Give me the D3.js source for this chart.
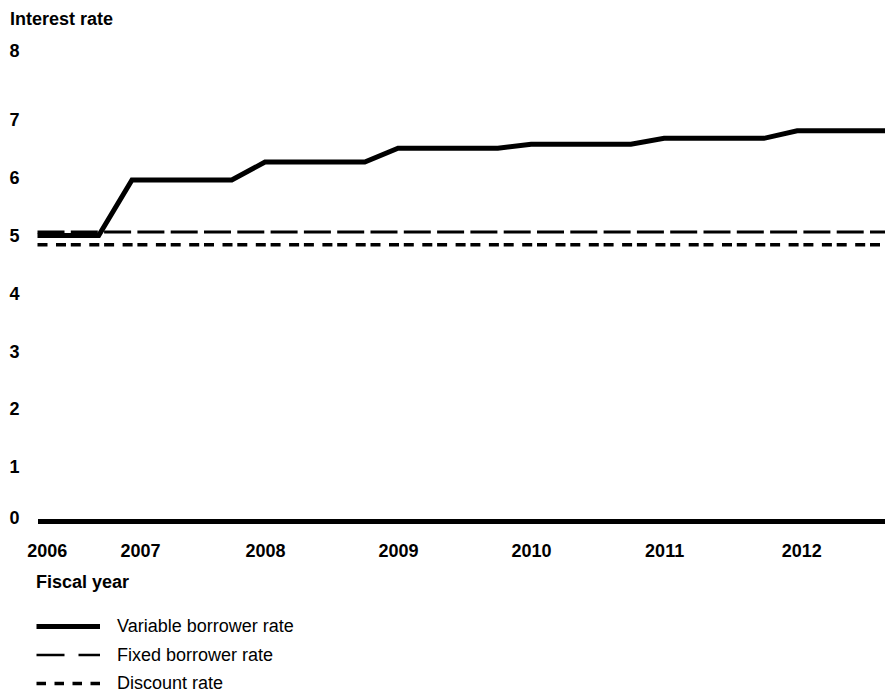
<!DOCTYPE html>
<html>
<head>
<meta charset="utf-8">
<script src="https://cdn.jsdelivr.net/npm/d3@7"></script>
<style>
  html, body { margin: 0; padding: 0; background: #fff; }
  svg { display: block; font-family: "Liberation Sans", Arial, Helvetica, sans-serif; }
</style>
</head>
<body>
<svg id="chart" width="885" height="694"></svg>
<script>
// ---- Data ----
const variableYears = [2006.29, 2006.75, 2007, 2007.75, 2008, 2008.75, 2009, 2009.75, 2010, 2010.75, 2011, 2011.75, 2012, 2012.66];
const variableRates = [4.94, 4.94, 5.90, 5.90, 6.21, 6.21, 6.45, 6.45, 6.52, 6.52, 6.62, 6.62, 6.75, 6.75];
const fixedYears = [2006.29, 2012.66];
const fixedRates = [5.0, 5.0];
const discountYears = [2006.29, 2012.66];
const discountRates = [4.78, 4.78];
const xTickValues = [2006.36, 2007.06, 2008, 2009, 2010, 2011, 2012.03];
const xTickLabels = ["2006", "2007", "2008", "2009", "2010", "2011", "2012"];
const yTickValues = [0, 1, 2, 3, 4, 5, 6, 7, 8];
const legendLabels = ["Variable borrower rate", "Fixed borrower rate", "Discount rate"];

// ---- Layout ----
const svg = d3.select("#chart");
const x = d3.scaleLinear().domain([2006.29, 2012.66]).range([37.5, 885]);
const y = d3.scaleLinear().domain([0, 7]).range([521, 116.4]);

const zip = (xs, ys) => xs.map((t, i) => ({ t, v: ys[i] }));
const line = d3.line().x(d => x(d.t)).y(d => y(d.v));

// Y axis title
svg.append("text")
  .attr("x", 10).attr("y", 24.5)
  .attr("font-size", 18).attr("font-weight", "bold")
  .text("Interest rate");

// Y axis (labels only)
const yAxis = svg.append("g")
  .attr("transform", `translate(${x.range()[0]},0)`)
  .call(d3.axisLeft(y).tickValues(yTickValues).tickSize(0).tickPadding(18).tickFormat(d3.format("d")));
yAxis.select(".domain").remove();
yAxis.selectAll("text")
  .attr("font-size", 18).attr("font-weight", "bold").attr("fill", "#000")
  .attr("font-family", "Liberation Sans, Arial, sans-serif")
  .attr("dy", d => d === 0 ? "0.14em" : (d === 8 ? "-0.1em" : "0.53em"));

// Fixed borrower rate
svg.append("path")
  .datum(zip(fixedYears, fixedRates))
  .attr("d", line)
  .attr("fill", "none").attr("stroke", "#000")
  .attr("stroke-width", 2.8)
  .attr("stroke-dasharray", "27,6.3");

// Discount rate
svg.append("path")
  .datum(zip(discountYears, discountRates))
  .attr("d", line)
  .attr("fill", "none").attr("stroke", "#000")
  .attr("stroke-width", 3.4)
  .attr("stroke-dasharray", "10,8.5,10,4.8");

// Variable borrower rate
svg.append("path")
  .datum(zip(variableYears, variableRates))
  .attr("d", line)
  .attr("fill", "none").attr("stroke", "#000")
  .attr("stroke-width", 5)
  .attr("stroke-linejoin", "miter");

// X axis at zero
const xAxis = svg.append("g")
  .attr("transform", `translate(0,${y(0)})`)
  .call(d3.axisBottom(x).tickValues(xTickValues).tickSize(0).tickSizeOuter(0).tickPadding(23.4)
    .tickFormat((d, i) => xTickLabels[i]));
xAxis.select(".domain").attr("stroke", "#000").attr("stroke-width", 5);
xAxis.selectAll("text")
  .attr("font-size", 18).attr("font-weight", "bold").attr("fill", "#000")
  .attr("font-family", "Liberation Sans, Arial, sans-serif");

// X axis title
svg.append("text")
  .attr("x", 36).attr("y", 588)
  .attr("font-size", 18).attr("font-weight", "bold")
  .text("Fiscal year");

// Legend
const legendStyles = [
  { w: 5, dash: null },
  { w: 2.6, dash: "28,14" },
  { w: 3.4, dash: "9.5,8.5" }
];
const legendY = d3.scaleLinear().domain([0, 2]).range([626.5, 683.5]);
const lg = svg.append("g");
legendLabels.forEach((lab, i) => {
  const ly = legendY(i);
  const l = lg.append("line")
    .attr("x1", 36.5).attr("x2", 100).attr("y1", ly).attr("y2", ly)
    .attr("stroke", "#000").attr("stroke-width", legendStyles[i].w);
  if (legendStyles[i].dash) l.attr("stroke-dasharray", legendStyles[i].dash);
  lg.append("text")
    .attr("x", 117).attr("y", ly).attr("dy", "0.33em")
    .attr("font-size", 18)
    .text(lab);
});
</script>
</body>
</html>
